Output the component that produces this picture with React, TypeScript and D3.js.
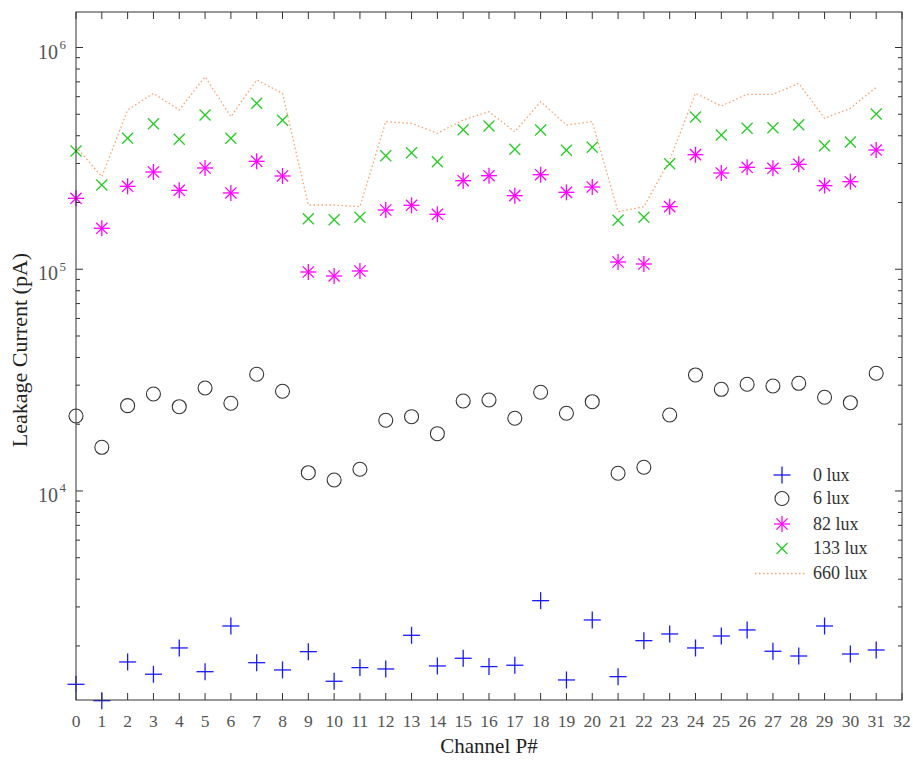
import React from "react";
import * as d3 from "d3";

const channels = d3.range(0, 32);
const xTicks = d3.range(0, 33);
const yMajorTicks = [1e4, 1e5, 1e6];
const yExponents = ["4", "5", "6"];

const lux0 = [1343, 1133, 1694, 1491, 1959, 1531, 2461, 1681, 1559, 1885, 1386, 1597, 1575, 2234, 1625, 1760, 1614, 1637, 3201, 1405, 2620, 1454, 2113, 2265, 1959, 2218, 2362, 1893, 1802, 2461, 1840, 1918];
const lux6 = [21780, 15740, 24250, 27370, 23990, 29140, 24860, 33600, 28160, 12090, 11210, 12530, 20840, 21630, 18130, 25460, 25720, 21280, 27870, 22410, 25270, 12020, 12790, 22010, 33360, 28740, 30280, 29750, 30590, 26460, 25010, 33960];
const lux82 = [208900, 153000, 236600, 274500, 227000, 286200, 220800, 306800, 263400, 97190, 93240, 98200, 185000, 194300, 176900, 250800, 264200, 214700, 266900, 222300, 234900, 107800, 105600, 191500, 328600, 271700, 288300, 285300, 297400, 238200, 248200, 344900];
const lux133 = [341300, 239900, 389600, 453300, 385500, 496100, 389600, 560300, 469600, 169000, 167300, 171500, 325200, 335500, 305500, 425900, 442600, 347500, 424600, 343800, 354800, 166300, 171500, 299200, 486000, 403200, 432100, 434800, 448600, 360700, 374800, 501200];
const lux660 = [357000, 261500, 522600, 621600, 522600, 738600, 487600, 713700, 621600, 194900, 194900, 191500, 462800, 455100, 410300, 471000, 513400, 417300, 569700, 447200, 462800, 181800, 191500, 311000, 621600, 544800, 615200, 615200, 689600, 479500, 531800, 661500];
const legendLabels = ["0 lux", "6 lux", "82 lux", "133 lux", "660 lux"];

const W = 913;
const H = 761;
const L = 76, R = 902, T = 12, B = 700;
const FONT = "'Liberation Serif', 'Times New Roman', serif";
const AX = "#333333";
const BLUE = "#1a1aff";
const MAG = "#ff00ff";
const GREEN = "#22cc22";
const ORANGE = "#f58a45";
const CIRC = "#333333";

function Plus({ x, y }: { x: number; y: number }) {
  const s = 8.5;
  return (
    <g stroke={BLUE} strokeWidth={1.3}>
      <line x1={x - s} y1={y} x2={x + s} y2={y} />
      <line x1={x} y1={y - s} x2={x} y2={y + s} />
    </g>
  );
}
function Circ({ x, y }: { x: number; y: number }) {
  return <circle cx={x} cy={y} r={7} fill="none" stroke={CIRC} strokeWidth={1.1} />;
}
function Star({ x, y }: { x: number; y: number }) {
  const s = 8, d = 5.6;
  return (
    <g stroke={MAG} strokeWidth={1.3}>
      <line x1={x - s} y1={y} x2={x + s} y2={y} />
      <line x1={x} y1={y - s} x2={x} y2={y + s} />
      <line x1={x - d} y1={y - d} x2={x + d} y2={y + d} />
      <line x1={x - d} y1={y + d} x2={x + d} y2={y - d} />
    </g>
  );
}
function Cross({ x, y }: { x: number; y: number }) {
  const d = 5.5;
  return (
    <g stroke={GREEN} strokeWidth={1.3}>
      <line x1={x - d} y1={y - d} x2={x + d} y2={y + d} />
      <line x1={x - d} y1={y + d} x2={x + d} y2={y - d} />
    </g>
  );
}

export default function App() {
  const x = d3.scaleLinear().domain([0, 32]).range([L, R]);
  const y = d3.scaleLog().domain([1141, 1.446e6]).range([B, T]);

  const minorTicks: number[] = [];
  [1e3, 1e4, 1e5].forEach((dec) => {
    for (let k = 2; k <= 9; k++) {
      const v = k * dec;
      if (v > 1141 && v < 1.446e6) minorTicks.push(v);
    }
  });

  const line = d3
    .line<number>()
    .x((_, i) => x(channels[i]))
    .y((d) => y(d));

  const legendY = [475, 498.5, 524, 548.5, 573.5];
  const legendMarkerX = 782;
  const legendTextX = 813;

  return (
    <svg
      width={W}
      height={H}
      style={{ position: "fixed", left: 0, top: 0, background: "#fff" }}
      fontFamily={FONT}
    >
      <rect x={0} y={0} width={W} height={H} fill="#fff" />

      <path d={line(lux660) || ""} fill="none" stroke={ORANGE} strokeWidth={1.3} strokeDasharray="1.5 2.5" opacity={0.8} />

      {lux133.map((v, i) => (
        <Cross key={"g" + i} x={x(channels[i])} y={y(v)} />
      ))}
      {lux82.map((v, i) => (
        <Star key={"m" + i} x={x(channels[i])} y={y(v)} />
      ))}
      {lux6.map((v, i) => (
        <Circ key={"c" + i} x={x(channels[i])} y={y(v)} />
      ))}
      {lux0.map((v, i) => (
        <Plus key={"b" + i} x={x(channels[i])} y={y(v)} />
      ))}

      <rect x={L} y={T} width={R - L} height={B - T} fill="none" stroke={AX} strokeWidth={1} />

      {xTicks.map((t) => (
        <g key={"xt" + t}>
          <line x1={x(t)} x2={x(t)} y1={B} y2={B - 7} stroke={AX} />
          <line x1={x(t)} x2={x(t)} y1={T} y2={T + 7} stroke={AX} />
          <text x={x(t)} y={727} textAnchor="middle" fontSize={17.5} fill="#555">
            {t}
          </text>
        </g>
      ))}

      {yMajorTicks.map((t, i) => (
        <g key={"ym" + t}>
          <line x1={L} x2={L + 7} y1={y(t)} y2={y(t)} stroke={AX} />
          <line x1={R} x2={R - 7} y1={y(t)} y2={y(t)} stroke={AX} />
          <text x={58} y={y(t) + 11} textAnchor="end" fontSize={20} fill="#555">
            10
          </text>
          <text x={59.5} y={y(t) + 1.5} textAnchor="start" fontSize={13} fill="#555">
            {yExponents[i]}
          </text>
        </g>
      ))}
      {minorTicks.map((t) => (
        <g key={"yn" + t}>
          <line x1={L} x2={L + 4} y1={y(t)} y2={y(t)} stroke={AX} />
          <line x1={R} x2={R - 4} y1={y(t)} y2={y(t)} stroke={AX} />
        </g>
      ))}

      <text x={489} y={753} textAnchor="middle" fontSize={21} fill="#222">
        Channel P#
      </text>
      <text
        transform={`translate(27, ${350}) rotate(-90)`}
        textAnchor="middle"
        fontSize={22}
        fill="#222"
      >
        Leakage Current (pA)
      </text>

      <Plus x={legendMarkerX} y={legendY[0]} />
      <Circ x={legendMarkerX} y={legendY[1]} />
      <Star x={legendMarkerX} y={legendY[2]} />
      <Cross x={legendMarkerX} y={legendY[3]} />
      <line x1={755} x2={807} y1={legendY[4]} y2={legendY[4]} stroke={ORANGE} strokeWidth={1.3} strokeDasharray="1.5 2.5" opacity={0.8} />
      {legendLabels.map((lab, i) => (
        <text key={lab} x={legendTextX} y={legendY[i] + 5.5} fontSize={18} fill="#333">
          {lab}
        </text>
      ))}
    </svg>
  );
}
